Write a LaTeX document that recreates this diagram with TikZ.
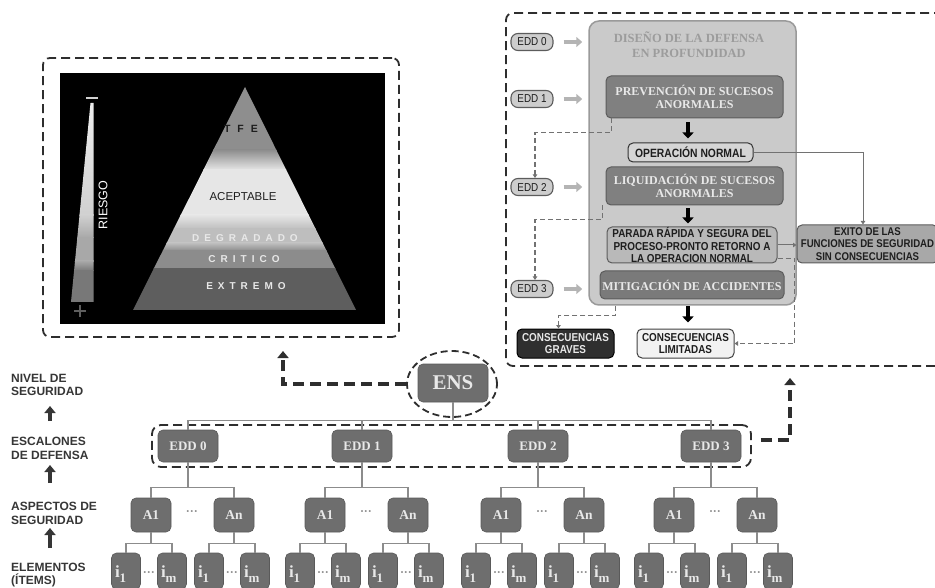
\documentclass[tikz,border=0pt]{standalone}
\usepackage{fontspec}
\setmainfont{Liberation Serif}
\setsansfont{Liberation Sans}
\newfontfamily\condsf[FakeStretch=0.86]{Liberation Sans}
\usetikzlibrary{arrows.meta,shapes.geometric}
\definecolor{bxdark}{HTML}{6E6E6E}
\definecolor{bxdarkline}{HTML}{5A5A5A}
\definecolor{txtlight}{HTML}{E8E8E8}
\definecolor{treel}{HTML}{8C8C8C}
\definecolor{dashc}{HTML}{2E2E2E}
\definecolor{lblc}{HTML}{363636}
\definecolor{bigfill}{HTML}{CACACA}
\definecolor{bigline}{HTML}{9A9A9A}
\definecolor{titlec}{HTML}{9C9C9C}
\definecolor{midbox}{HTML}{808080}
\definecolor{midline}{HTML}{5C5C5C}
\definecolor{pillf}{HTML}{CDCDCD}
\definecolor{parf}{HTML}{B9B9B9}
\definecolor{exf}{HTML}{A8A8A8}
\definecolor{gravef}{HTML}{2F2F2F}
\definecolor{limf}{HTML}{F2F2F2}
\definecolor{garrow}{HTML}{B4B4B4}
\definecolor{thinc}{HTML}{727272}
\definecolor{darktxt}{HTML}{1E1E1E}
\definecolor{pya}{HTML}{8E8E8E}
\definecolor{pyb}{HTML}{E6E6E6}
\definecolor{pyc}{HTML}{BEBEBE}
\definecolor{pyd}{HTML}{8C8C8C}
\definecolor{pye}{HTML}{5E5E5E}
\definecolor{bara}{HTML}{EEEEEE}
\definecolor{barb}{HTML}{D0D0D0}
\definecolor{barc}{HTML}{A8A8A8}
\definecolor{bard}{HTML}{787878}
\definecolor{dotc}{HTML}{8A8A8A}
\newdimen\lskern \lskern=5pt
\def\lsp#1{\lsploop#1\relax\kern-\lskern}
\def\lsploop#1{\ifx#1\relax\else#1\kern\lskern\expandafter\lsploop\fi}
\begin{document}
\begin{tikzpicture}[x=1pt,y=-1pt,
  dbox/.style={draw=dashc, line width=1.8pt, dash pattern=on 9pt off 5pt, rounded corners=7pt, inner sep=0pt, rectangle},
  tnode/.style={rectangle, rounded corners=5pt, fill=bxdark, draw=bxdarkline, line width=0.6pt, text=txtlight, inner sep=0pt, font=\bfseries},
  treeline/.style={draw=treel, line width=1.1pt},
  thickdash/.style={draw=dashc, line width=4pt, dash pattern=on 11pt off 6pt, -{Triangle[width=11pt,length=7pt]}},
  thindash/.style={draw=thinc, line width=1.1pt, dash pattern=on 5pt off 3pt, -{Triangle[width=4.5pt,length=3.5pt]}},
  thinline/.style={draw=thinc, line width=1pt, -{Triangle[width=4.5pt,length=3.5pt]}},
  grayarr/.style={draw=garrow, line width=4pt, -{Triangle[width=10pt,length=6pt]}},
  blkarr/.style={draw=black, line width=4.5pt, -{Triangle[width=11pt,length=6pt]}},
  uparr/.style={draw=lblc, line width=4.5pt, -{Triangle[width=11pt,length=7pt]}},
  lab/.style={anchor=west, align=left, inner sep=0pt, text=lblc, font=\sffamily\bfseries\fontsize{12}{13.5}\selectfont},
  pill/.style={rectangle, rounded corners=7pt, fill=pillf, draw=midline, line width=1.1pt, minimum width=42pt, minimum height=17pt, inner sep=0pt, text=darktxt, font=\condsf\fontsize{11.5}{13}\selectfont},
  serifbox/.style={rectangle, rounded corners=5pt, fill=midbox, draw=midline, line width=1pt, inner sep=0pt, align=center, text=txtlight, font=\bfseries\fontsize{12}{13}\selectfont},
  sansbox/.style={rectangle, rounded corners=5pt, draw=midline, line width=1pt, inner sep=0pt, align=center, text=darktxt, font=\condsf\bfseries\fontsize{11.5}{12.5}\selectfont},
  item/.style={tnode, minimum width=29pt, minimum height=36pt, text width=22pt, align=left, text height=14pt, text depth=2pt, font=\bfseries\fontsize{17}{17}\selectfont},
  dots/.style={text=dotc, inner sep=0pt, font=\bfseries\fontsize{12}{12}\selectfont}
]
\useasboundingbox (0,0) rectangle (935,588);

% ---------------- left panel ----------------
\node[dbox, minimum width=356pt, minimum height=279pt] (lbox) at (221,197.5) {};
\node[rectangle, fill=black, draw=black, minimum width=324pt, minimum height=250pt, inner sep=0pt] (blk) at (222,198) {};
\begin{scope}
  \clip (245,87) -- (356,310) -- (133,310) -- cycle;
  \fill[pya] (120,80) rectangle (370,151);
  \shade[top color=pya, bottom color=pyb] (120,150) rectangle (370,170);
  \fill[pyb] (120,169) rectangle (370,216);
  \shade[top color=pyb, bottom color=pyc] (120,215) rectangle (370,229);
  \fill[pyc] (120,228) rectangle (370,244);
  \shade[top color=pyc, bottom color=pyd] (120,243) rectangle (370,251);
  \fill[pyd] (120,250) rectangle (370,269);
  \fill[pye] (120,268) rectangle (370,320);
\end{scope}
\node[inner sep=0pt, text=darktxt, font=\sffamily\bfseries\fontsize{10.5}{12}\selectfont] (tfe) at (241,129) {\lskern=7pt\lsp{TFE}};
\node[inner sep=0pt, text=darktxt, font=\sffamily\fontsize{11.5}{13}\selectfont] (acep) at (243,197) {ACEPTABLE};
\node[inner sep=0pt, text=txtlight, font=\sffamily\bfseries\fontsize{10}{12}\selectfont] (degr) at (245,238) {\lsp{DEGRADADO}};
\node[inner sep=0pt, text=txtlight, font=\sffamily\bfseries\fontsize{10}{12}\selectfont] (crit) at (244,259) {\lsp{CRITICO}};
\node[inner sep=0pt, text=txtlight, font=\sffamily\bfseries\fontsize{10}{12}\selectfont] (extr) at (246,286) {\lsp{EXTREMO}};
% risk bar
\begin{scope}
  \clip (90.5,103) -- (93.5,103) -- (93.5,302) -- (71,302) -- cycle;
  \shade[top color=bara, bottom color=barb] (60,100) rectangle (100,216);
  \shade[top color=barb, bottom color=barc] (60,215) rectangle (100,238);
  \fill[barc] (60,237) rectangle (100,262);
  \shade[top color=barc, bottom color=bard] (60,261) rectangle (100,271);
  \fill[bard] (60,270) rectangle (100,303);
\end{scope}
\draw[draw=barb, line width=2.5pt] (86,98) -- (98,98);
\draw[draw=lblc!80, line width=2pt] (74,311) -- (86,311) (80,305) -- (80,317);
\node[rotate=90, inner sep=0pt, text=white, font=\sffamily\fontsize{12.5}{14}\selectfont] (riesgo) at (103,205) {RIESGO};

% ---------------- right panel ----------------
\node[dbox, minimum width=444pt, minimum height=353pt] (rbox) at (728,189.5) {};
\node[rectangle, rounded corners=10pt, fill=bigfill, draw=bigline, line width=1.5pt, minimum width=207pt, minimum height=284pt, inner sep=0pt] (big) at (692.5,163) {};
\node[inner sep=0pt, align=center, text=titlec, font=\bfseries\fontsize{12.5}{15}\selectfont] (ttl) at (689,44.5) {DISEÑO DE LA DEFENSA\\EN PROFUNDIDAD};

\node[serifbox, minimum width=177pt, minimum height=42pt] (prev) at (694.5,97) {PREVENCIÓN DE SUCESOS\\ANORMALES};
\node[sansbox, fill=bigfill!80!white, draw=black!80, minimum width=125pt, minimum height=19pt, font=\condsf\bfseries\fontsize{12}{12.5}\selectfont] (opn) at (690.5,152.5) {OPERACIÓN NORMAL};
\node[serifbox, minimum width=177pt, minimum height=38pt] (liq) at (694.5,186) {LIQUIDACIÓN DE SUCESOS\\ANORMALES};
\node[sansbox, fill=parf, minimum width=170pt, minimum height=36pt] (par) at (692,245) {PARADA RÁPIDA Y SEGURA DEL\\PROCESO-PRONTO RETORNO A\\LA OPERACION NORMAL};
\node[serifbox, fill=midbox!95!black, minimum width=184pt, minimum height=28pt] (mit) at (692,285) {MITIGACIÓN DE ACCIDENTES};
\node[sansbox, fill=gravef, draw=black, text=txtlight, minimum width=97pt, minimum height=29pt] (gra) at (565.5,343.5) {CONSECUENCIAS\\GRAVES};
\node[sansbox, fill=limf, draw=black!75, minimum width=97pt, minimum height=29pt] (lim) at (685.5,343.5) {CONSECUENCIAS\\LIMITADAS};
\node[sansbox, fill=exf, minimum width=141pt, minimum height=38pt, font=\condsf\bfseries\fontsize{11.2}{12.5}\selectfont] (exi) at (867.5,244) {EXITO DE LAS\\FUNCIONES DE SEGURIDAD\\SIN CONSECUENCIAS};

\node[pill] (s0) at (532,42) {EDD 0};
\node[pill] (s1) at (532,99) {EDD 1};
\node[pill] (s2) at (532,187) {EDD 2};
\node[pill] (s3) at (532,289) {EDD 3};
\foreach \s in {s0,s1,s2,s3}{
  \draw[grayarr, shorten <=10pt, shorten >=6pt] (\s.east) -- (\s.east -| big.west);
}
\draw[blkarr, shorten <=4pt, shorten >=4pt] ([xshift=-6.5pt]prev.south) -- ([xshift=-6.5pt]prev.south |- opn.north);
\draw[blkarr, shorten <=3pt, shorten >=3pt] ([xshift=-6.5pt]liq.south) -- ([xshift=-6.5pt]liq.south |- par.north);
\draw[blkarr, shorten <=7pt, shorten >=6pt] ([xshift=-4pt]mit.south) -- ([xshift=-4pt]mit.south |- lim.north);

\draw[thinline] (opn.east) -| ([xshift=-4.5pt]exi.north);
\draw[thinline] (par.east) -- (par.east -| exi.west);
\draw[thindash] ([yshift=5pt]par.south east) -- ++(17,0) |- (lim.east);
\draw[thindash] ([xshift=6pt]prev.south west) -- ++(0,14) -| ([xshift=3pt]s2.north);
\draw[thindash] ([xshift=-3pt]liq.south west) -- ++(0,14) -| ([xshift=3pt]s3.north);
\draw[thindash] ([xshift=27pt]big.south west) -- ++(0,10) -| ([xshift=-7pt]gra.north);

% ---------------- bottom tree ----------------
\node[tnode, minimum width=70pt, minimum height=38pt, font=\bfseries\fontsize{21}{21}\selectfont] (ens) at (453,383) {ENS};
\node[ellipse, draw=dashc, line width=1.8pt, dash pattern=on 7pt off 4pt, minimum width=90pt, minimum height=66pt, inner sep=0pt] (ensel) at (452,384) {};
\coordinate (larr) at (283,351);
\draw[thickdash] (ensel.west) -| (larr);

\node[dbox, rounded corners=9pt, minimum width=599pt, minimum height=42pt] (edrow) at (451.5,446) {};
\coordinate (rarr) at (790,378);
\draw[thickdash] ([xshift=9pt,yshift=6pt]edrow.east) -| (rarr);

\foreach \k/\e in {0/188,1/362,2/538,3/711}{
  \node[tnode, minimum width=60pt, minimum height=32pt, font=\bfseries\fontsize{13}{13}\selectfont] (e\k) at (\e,446) {EDD \k};
  \draw[treeline] (ens.south) -- ++(0,18) -| (e\k.north);
  \node[dots] (ad\k) at (\e+4,513) {···};
  \foreach \s/\d/\t in {l/-37/A1,r/46/An}{
    \node[tnode, minimum width=40pt, minimum height=34pt, font=\bfseries\fontsize{13.5}{13.5}\selectfont] (a\s\k) at (\e+\d,515) {\t};
    \draw[treeline] (e\k.south) -- ++(0,25) -| (a\s\k.north);
    \node[item] (p\s\k) at (\e+\d-25,571) {i\raisebox{-5pt}{\fontsize{13}{13}\selectfont 1}};
    \node[item] (q\s\k) at (\e+\d+21,571) {i\raisebox{-5pt}{\fontsize{13}{13}\selectfont m}};
    \draw[treeline] (a\s\k.south) -- ++(0,11) -| (p\s\k.north);
    \draw[treeline] (a\s\k.south) -- ++(0,11) -| (q\s\k.north);
    \node[dots] (id\s\k) at (\e+\d-2,574) {···};
  }
}

% ---------------- left labels ----------------
\node[lab] (l1) at (11,385) {NIVEL DE\\SEGURIDAD};
\node[lab] (l2) at (11,448.5) {ESCALONES\\DE DEFENSA};
\node[lab] (l3) at (11,513.5) {ASPECTOS DE\\SEGURIDAD};
\node[lab] (l4) at (11,575) {ELEMENTOS\\(ÍTEMS)};
\coordinate (u1s) at (50,421); \coordinate (u1e) at (50,406);
\coordinate (u2s) at (50,483); \coordinate (u2e) at (50,465);
\coordinate (u3s) at (50,548); \coordinate (u3e) at (50,528);
\draw[uparr] (u1s) -- (u1e);
\draw[uparr] (u2s) -- (u2e);
\draw[uparr] (u3s) -- (u3e);
\end{tikzpicture}
\end{document}
